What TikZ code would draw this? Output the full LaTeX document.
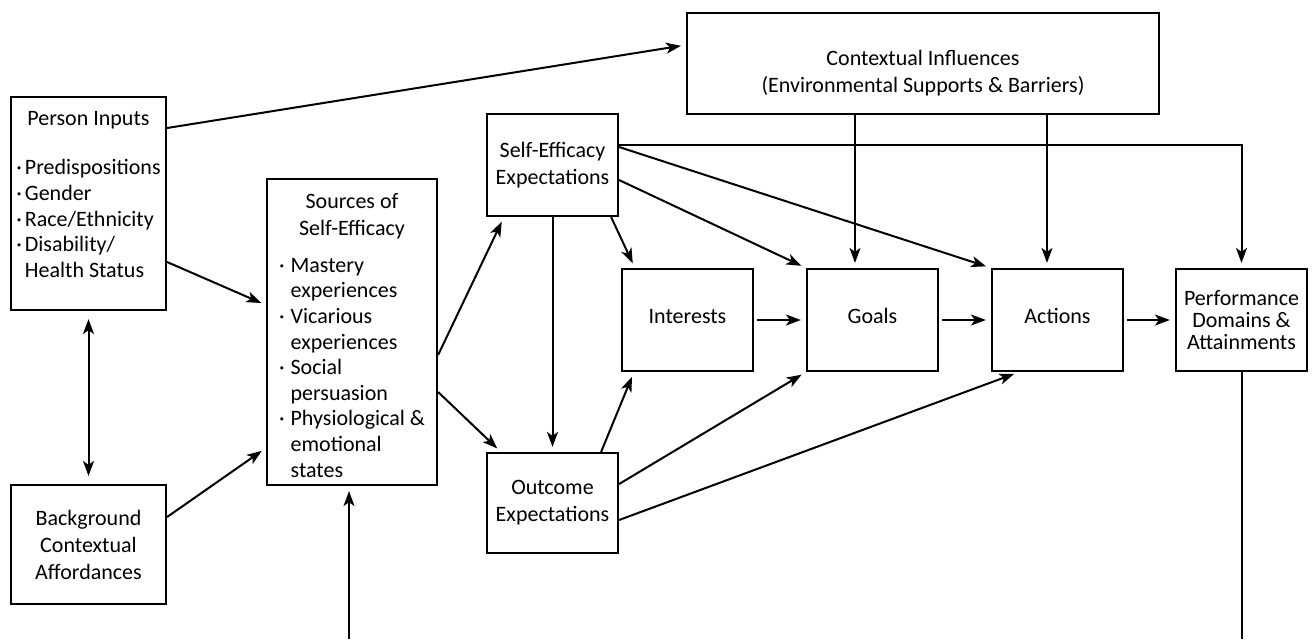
\documentclass[tikz,border=0pt]{standalone}
\usepackage{fontspec}
\setmainfont{Carlito}
\usetikzlibrary{arrows.meta}

\newcommand{\bpt}{\textperiodcentered}

\begin{document}
\begin{tikzpicture}[x=0.5pt, y=-0.5pt,
    box/.style={draw, line width=1.1pt, align=center, inner sep=2pt,
        font=\fontsize{11}{13.5}\selectfont},
    arr/.style={-{Stealth[length=7.5pt, width=5.5pt, inset=2pt]}, line width=1pt,
        shorten >=2.5pt},
    arrs/.style={{Stealth[length=7.5pt, width=5.5pt, inset=2pt]}-{Stealth[length=7.5pt, width=5.5pt, inset=2pt]},
        line width=1pt, shorten >=4pt, shorten <=4pt}]

    \useasboundingbox (0,0) rectangle (1312,639);
    \renewcommand{\arraystretch}{0.95}

    % Boxes on the left
    \node[box, inner xsep=1pt, minimum width=77.5pt, minimum height=106.5pt] (pi) at (88.5,203.5)
        {Person Inputs\\[11pt]
        \begin{tabular}[t]{@{}l@{\hspace{1.5pt}}l@{}}
            \bpt & Predispositions\\
            \bpt & Gender\\
            \bpt & Race/Ethnicity\\
            \bpt & Disability/\\
                 & Health Status\rule[-9pt]{0pt}{0pt}
        \end{tabular}};
    \node[box, minimum width=77.5pt, minimum height=59.5pt] (bg) at (88.5,544.5)
        {Background\\Contextual\\Affordances};

    \node[box, inner ysep=0pt, minimum width=85pt, minimum height=153pt] (so) at (352,332)
        {\rule{0pt}{14.5pt}Sources of\\Self-Efficacy\\[5pt]
        \begin{tabular}[t]{@{}l@{\hspace{3pt}}l@{}}
            \bpt & Mastery\\
                 & experiences\\
            \bpt & Vicarious\\
                 & experiences\\
            \bpt & Social\\
                 & persuasion\\
            \bpt & Physiological \&\\
                 & emotional\\
                 & states
        \end{tabular}};

    % Expectations
    \node[box, minimum width=65.5pt, minimum height=51pt] (se) at (552.5,165)
        {Self-Efficacy\\Expectations};
    \node[box, minimum width=65.5pt, minimum height=50pt] (oe) at (552.5,503)
        {Outcome\\Expectations};

    % Middle row
    \node[box, minimum width=65.5pt, minimum height=51pt] (in) at (687.5,320) {Interests\rule[-4pt]{0pt}{0pt}};
    \node[box, minimum width=65.5pt, minimum height=51pt] (go) at (872.5,320) {Goals\rule[-4pt]{0pt}{0pt}};
    \node[box, minimum width=65.5pt, minimum height=51pt] (ac) at (1057.5,320) {Actions\rule[-4pt]{0pt}{0pt}};
    \node[box, minimum width=65.5pt, minimum height=51pt, font=\fontsize{11}{11}\selectfont] (pe) at (1241.5,320)
        {Performance\\Domains \&\\Attainments};

    \node[box, minimum width=236pt, minimum height=50.5pt] (ci) at (923,63.5)
        {\rule{0pt}{17.5pt}Contextual Influences\\(Environmental Supports \& Barriers)};

    \coordinate (fbin) at (349,639);

    % Person inputs and background
    \draw[arr] (pi.east |- 0,128) -- (ci.west |- 0,45);
    \draw[arr] (pi.east |- 0,262) -- (so.west |- 0,305);
    \draw[arrs] (pi.south) -- (bg.north);
    \draw[arr] (bg.east |- 0,517) -- (so.west |- 0,448);
    \draw[arr] (fbin) -- (fbin |- so.south);

    % Sources to expectations
    \draw[arr] (so.east |- 0,355) -- ([xshift=9pt]se.south west);
    \draw[arr] (so.east |- 0,392) -- ([xshift=7.5pt]oe.north west);
    \draw[arr] (se.south) -- (oe.north);

    % Self-efficacy
    \draw[arr] ([xshift=-4pt]se.south east) -- ([xshift=7pt]in.north west);
    \draw[arr] (se.east |- 0,180) -- (go.north west);
    \draw[arr] (se.east |- 0,147) -- (ac.north west);
    \draw[arr] (se.east |- 0,145) -- (pe.north |- 0,145) -- (pe.north);

    % Outcome expectations
    \draw[arr] ([xshift=-9pt]oe.north east) -- ([xshift=6.5pt]in.south west);
    \draw[arr] (oe.east |- 0,484) -- (go.south west);
    \draw[arr] (oe.east |- 0,520) -- ([xshift=14pt]ac.south west);

    % Contextual influences
    \draw[arr] (ci.south -| 855,0) -- (go.north -| 855,0);
    \draw[arr] (ci.south -| 1047,0) -- (ac.north -| 1047,0);

    % Row
    \draw[arr, shorten <=1.5pt] (in) -- (go);
    \draw[arr, shorten <=1.5pt] (go) -- (ac);
    \draw[arr, shorten <=1.5pt] (ac) -- (pe);
    \draw[line width=1pt] (pe.south) -- (pe.south |- fbin);

\end{tikzpicture}
\end{document}
